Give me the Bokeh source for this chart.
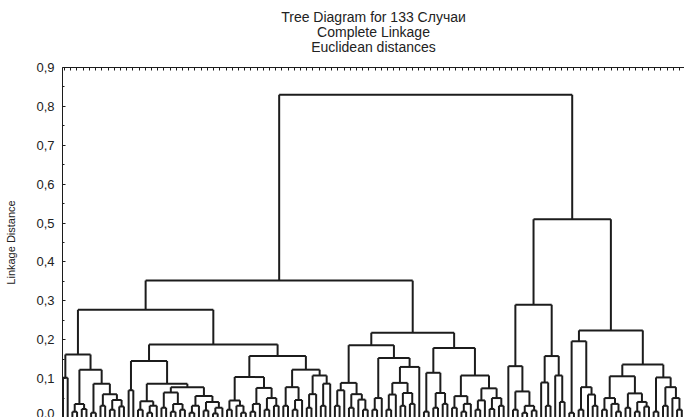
from bokeh.plotting import figure
from bokeh.models import (ColumnDataSource, LinearAxis, CustomJSTickFormatter,
                          Title, Range1d, FixedTicker, SingleIntervalTicker)
from bokeh.embed import file_html
from bokeh.resources import INLINE

# ---------------- data ----------------
title_lines = ["Tree Diagram for 133 Случаи", "Complete Linkage", "Euclidean distances"]
y_label = "Linkage Distance"
y_ticks = [0.0, 0.1, 0.2, 0.3, 0.4, 0.5, 0.6, 0.7, 0.8, 0.9]
n_cases = 133

X = 0  # a single case (leaf); internal node = [linkage distance, left, right]

cluster_l1a = [0.162,
               [0.102, X, X],
               [0.123,
                [0.035, [0.015, X, X], [0.022, X, X]],
                [0.087,
                 [0.012, X, X],
                 [0.06, [0.03, X, X], [0.045, [0.02, X, X], [0.028, X, X]]]]]]

cluster_l1b_left = [0.145,
                    [0.07, X, X],
                    [0.087,
                     [0.042, [0.02, X, X], [0.03, [0.012, X, X], X]],
                     [0.078,
                      [0.064, [0.025, X, X], [0.035, [0.015, X, X], [0.02, X, X]]],
                      [0.055, [0.03, [0.012, X, X], X],
                       [0.04, [0.018, X, X], [0.025, [0.01, X, X], X]]]]]]

cluster_l1b_right = [0.158,
                     [0.104,
                      [0.044, [0.02, X, X], [0.03, X, [0.012, X, X]]],
                      [0.076, [0.035, [0.015, X, X], X], [0.05, [0.02, X, X], [0.03, X, X]]]],
                     [0.123,
                      [0.078, [0.03, X, X], [0.045, [0.02, X, X], X]],
                      [0.108,
                       [0.06, [0.025, X, X], X],
                       [0.087, [0.03, X, X], X]]]]

cluster_l2a = [0.186,
               [0.089,
                [0.07, [0.03, X, X], X],
                [0.06, [0.025, X, X], [0.046, X, [0.02, X, X]]]],
               [0.153,
                [0.05, [0.02, X, X], X],
                [0.13,
                 [0.089, [0.059, [0.02, X, X], X], [0.063, [0.03, X, X], [0.035, X, X]]],
                 X]]]

cluster_l2b = [0.179,
               [0.115, [0.015, X, X], [0.063, [0.025, X, X], [0.035, X, X]]],
               [0.108,
                [0.055, [0.025, X, X], [0.035, [0.015, X, X], X]],
                [0.075,
                 [0.044, [0.02, X, X], X],
                 [0.05, [0.022, X, X], [0.03, X, X]]]]]

cluster_r1 = [0.29,
              [0.132, X, [0.067, [0.02, X, X], [0.03, [0.012, X, X], [0.018, X, X]]]],
              [0.158,
               [0.09, X, [0.03, X, X]],
               [0.108, X, [0.04, X, X]]]]

cluster_r2a = [0.196, [0.012, X, X], [0.078, [0.02, X, X], [0.059, X, [0.03, X, X]]]]

cluster_r2b = [0.136,
               [0.106,
                [0.05, [0.02, X, X], [0.035, X, [0.015, X, X]]],
                [0.062, [0.025, X, X], [0.04, [0.015, X, X], [0.028, X, X]]]],
               [0.103,
                [0.015, X, X],
                [0.078, [0.03, X, X], [0.05, X, [0.02, X, X]]]]]

h_l1, h_l1b, h_l2, h_left = 0.277, 0.188, 0.218, 0.352
h_r2, h_right, h_root = 0.224, 0.51, 0.83

tree = [h_root,
        [h_left,
         [h_l1, cluster_l1a, [h_l1b, cluster_l1b_left, cluster_l1b_right]],
         [h_l2, cluster_l2a, cluster_l2b]],
        [h_right, cluster_r1, [h_r2, cluster_r2a, cluster_r2b]]]

# ---------------- layout of the tree ----------------
segs = {"x0": [], "y0": [], "x1": [], "y1": []}
counter = [0]


def add(x0, y0, x1, y1):
    segs["x0"].append(x0); segs["y0"].append(y0)
    segs["x1"].append(x1); segs["y1"].append(y1)


def place(node):
    if not isinstance(node, list):
        counter[0] += 1
        return float(counter[0]), 0.0
    h, a, b = node
    xa, ha = place(a)
    xb, hb = place(b)
    add(xa, ha, xa, h)
    add(xb, hb, xb, h)
    add(xa, h, xb, h)
    return (xa + xb) / 2.0, h


place(tree)
assert counter[0] == n_cases, counter[0]

# ---------------- figure ----------------
FONT = "Liberation Sans"
INK = "#1c1c1c"
TXT = "#222222"

p = figure(width=684, height=417, output_backend="svg", toolbar_location=None,
           x_axis_location=None, y_axis_location="left",
           x_range=Range1d(0.893, 133.58), y_range=Range1d(0.0, 0.9),
           min_border_left=62, min_border_right=0, min_border_bottom=0,
           min_border_top=67)
p.grid.visible = False
p.outline_line_color = None
p.background_fill_color = "white"
p.border_fill_color = "white"

p.segment(x0="x0", y0="y0", x1="x1", y1="y1", source=ColumnDataSource(segs),
          line_color=INK, line_width=2)

yax = p.yaxis[0]
yax.ticker = FixedTicker(ticks=y_ticks, minor_ticks=[t + 0.05 for t in y_ticks])
yax.formatter = CustomJSTickFormatter(code="return tick.toFixed(1).replace('.', ',');")
yax.axis_label = y_label
yax.axis_label_text_font = FONT
yax.axis_label_text_font_size = "11px"
yax.axis_label_text_font_style = "normal"
yax.axis_label_text_color = TXT
yax.axis_label_standoff = 16
yax.major_label_text_font = FONT
yax.major_label_text_font_size = "13px"
yax.major_label_text_color = TXT
yax.major_label_standoff = 8
yax.major_tick_in = 3
yax.major_tick_out = 0
yax.minor_tick_in = 2
yax.minor_tick_out = 0
yax.axis_line_color = INK
yax.major_tick_line_color = INK
yax.minor_tick_line_color = INK

# top frame edge with its dense inward ticks
top = LinearAxis(ticker=SingleIntervalTicker(interval=1.325, num_minor_ticks=0),
                 formatter=CustomJSTickFormatter(code="return '';"),
                 major_label_standoff=0,
                 major_tick_in=3, major_tick_out=0, axis_line_color=INK,
                 major_tick_line_color=INK)
p.add_layout(top, "above")

# blank band between the frame and the titles (one white tick at the far right)
spacer = LinearAxis(ticker=FixedTicker(ticks=[133.5]),
                    formatter=CustomJSTickFormatter(code="return '';"),
                    major_label_standoff=0, major_tick_in=0, major_tick_out=14,
                    axis_line_color=None, major_tick_line_color="white",
                    minor_tick_line_color=None)
p.add_layout(spacer, "above")

standoffs = [-3.5, -3.5, -3.5]
for line, so in zip(reversed(title_lines), reversed(standoffs)):
    p.add_layout(Title(text=line, align="center", text_font=FONT,
                       text_font_size="14px", text_font_style="normal",
                       text_color=TXT, standoff=so), "above")

open("out.html", "w").write(file_html(p, INLINE))
